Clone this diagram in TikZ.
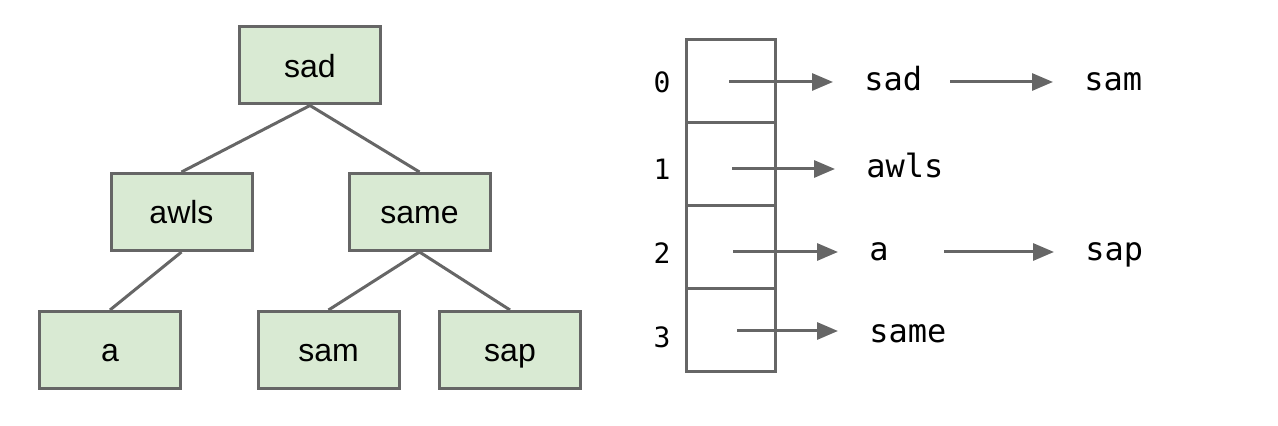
\documentclass[tikz,border=0pt]{standalone}
\usepackage{fontspec}
\setmainfont{Liberation Sans}
\setmonofont{DejaVu Sans Mono}
\usetikzlibrary{arrows.meta}
\definecolor{boxfill}{HTML}{D9EAD3}
\definecolor{edgegray}{HTML}{666666}

\begin{document}
\begin{tikzpicture}[x=0.5pt,y=-0.5pt,
  tnode/.style={draw=edgegray,fill=boxfill,line width=1.5pt,minimum width=70.5pt,minimum height=38.5pt,inner sep=0pt,text height=11.7pt,text depth=0pt,font=\fontsize{16}{19}\selectfont},
  tedge/.style={draw=edgegray,line width=1.5pt},
  cell/.style={draw=edgegray,line width=1.5pt,minimum width=44.5pt,minimum height=41.5pt,inner sep=0pt},
  idx/.style={inner sep=0pt,font=\ttfamily\fontsize{14}{16}\selectfont},
  word/.style={anchor=west,inner sep=0pt,text height=8.7pt,text depth=0pt,font=\ttfamily\fontsize{16}{19}\selectfont},
  ptr/.style={draw=edgegray,line width=1.5pt,-{Triangle[length=10.5pt,width=8.5pt]},shorten >=15.5pt}]
  \useasboundingbox (0,0) rectangle (1278,426);
  \node[tnode] (sad) at (310,65.5) {sad};
  \node[tnode] (awls) at (181.5,212) {awls};
  \node[tnode] (same) at (419.5,212) {same};
  \node[tnode] (a) at (110,350) {a};
  \node[tnode] (sam) at (328.5,350) {sam};
  \node[tnode] (sap) at (510,350) {sap};
  \draw[tedge] (sad.south)--(awls.north);
  \draw[tedge] (sad.south)--(same.north);
  \draw[tedge] (awls.south)--(a.north);
  \draw[tedge] (same.south)--(sam.north);
  \draw[tedge] (same.south)--(sap.north);
  \node[cell] (c0) at (731,81.5) {};
  \node[cell] (c1) at (731,164.5) {};
  \node[cell] (c2) at (731,247.5) {};
  \node[cell] (c3) at (731,330.5) {};
  \node[idx] (i0) at (662,82) {0};
  \node[idx] (i1) at (662,169) {1};
  \node[idx] (i2) at (662,253) {2};
  \node[idx] (i3) at (662,337) {3};
  \node[word] (w0) at (864,82) {sad};
  \node[word] (w0b) at (1084,82) {sam};
  \node[word] (w1) at (866,169) {awls};
  \node[word] (w2) at (869,252) {a};
  \node[word] (w2b) at (1085,252) {sap};
  \node[word] (w3) at (869,334) {same};
  \coordinate (p0) at (729,82);
  \coordinate (q0) at (950,82);
  \coordinate (p1) at (732,169);
  \coordinate (p2) at (733,252);
  \coordinate (q2) at (944,252);
  \coordinate (p3) at (737,331);
  \draw[ptr] (p0)--(w0.west);
  \draw[ptr] (q0)--(w0b.west);
  \draw[ptr] (p1)--(w1.west);
  \draw[ptr] (p2)--(w2.west);
  \draw[ptr] (q2)--(w2b.west);
  \draw[ptr] (p3)--(p3-|w3.west);
\end{tikzpicture}
\end{document}
